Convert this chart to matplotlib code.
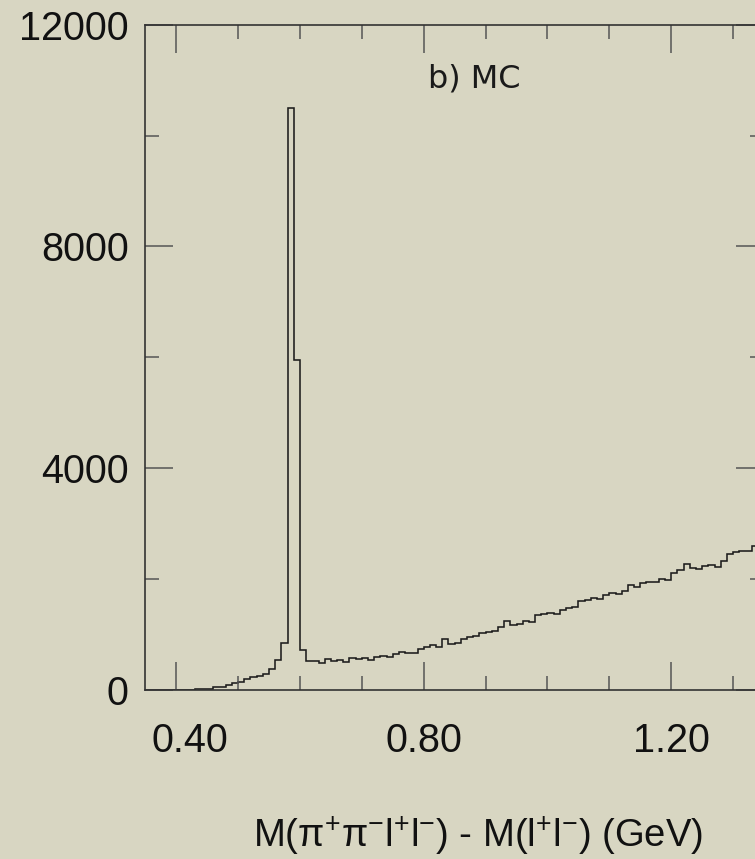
import numpy as np
import matplotlib
matplotlib.use("Agg")
import matplotlib.pyplot as plt
from matplotlib.ticker import MultipleLocator, FixedLocator
from matplotlib.transforms import ScaledTranslation

# Histogram of M(pi+ pi- l+ l-) - M(l+ l-), 0.01 GeV bins from 0.35 to 1.35 GeV
bin_lo = 0.35
bin_width = 0.01
counts = [
    0, 0, 0, 0, 0, 0, 0, 0, 10, 20,          # 0.35 - 0.45
    25, 48, 48, 90, 120, 150, 198, 228, 252, 288,   # 0.45 - 0.55
    378, 535, 852, 10500, 5950, 720, 525, 522, 480, 568,  # 0.55 - 0.65
    528, 540, 504, 582, 552, 582, 540, 590, 606, 590,    # 0.65 - 0.75
    654, 678, 660, 660, 732, 775, 805, 772, 922, 829,    # 0.75 - 0.85
    845, 925, 949, 973, 1021, 1051, 1069, 1130, 1238, 1177,   # 0.85 - 0.95
    1189, 1238, 1226, 1357, 1369, 1393, 1369, 1442, 1472, 1502,  # 0.95 - 1.05
    1610, 1628, 1652, 1640, 1712, 1742, 1730, 1790, 1898, 1850,  # 1.05 - 1.15
    1934, 1952, 1952, 2003, 1988, 2114, 2162, 2273, 2201, 2180,  # 1.15 - 1.25
    2237, 2258, 2213, 2333, 2453, 2486, 2510, 2500, 2606, 2630,  # 1.25 - 1.35
]
edges = bin_lo + bin_width * np.arange(len(counts) + 1)

x_ticks = [0.40, 0.80, 1.20]
x_tick_labels = ["0.40", "0.80", "1.20"]
y_ticks = [0, 4000, 8000, 12000]
y_tick_labels = ["0", "4000", "8000", "12000"]
panel_label = "b) MC"
x_title = r"M(π$^{+}$π$^{-}$l$^{+}$l$^{-}$) - M(l$^{+}$l$^{-}$) (GeV)"

plt.rcParams["font.family"] = ["Liberation Sans", "DejaVu Sans"]
plt.rcParams["mathtext.fontset"] = "custom"
plt.rcParams["mathtext.rm"] = "Liberation Sans"
plt.rcParams["mathtext.it"] = "Liberation Sans"
plt.rcParams["mathtext.default"] = "regular"

bg = "#d8d6c2"
fig = plt.figure(figsize=(7.55, 8.59), dpi=100, facecolor=bg)
W, H = 755, 859
left_px, right_px, top_px, bottom_px = 145.3, 764.0, 24.7, 690.0
ax = fig.add_axes([left_px / W, 1 - bottom_px / H,
                   (right_px - left_px) / W, (bottom_px - top_px) / H])
ax.set_facecolor(bg)

ax.stairs(counts, edges, color="#1c1c1c", linewidth=1.15)

ax.set_xlim(0.35, 1.35)
ax.set_ylim(0, 12000)

ax.xaxis.set_major_locator(FixedLocator(x_ticks))
ax.set_xticklabels(x_tick_labels)
ax.xaxis.set_minor_locator(MultipleLocator(0.1))
ax.yaxis.set_major_locator(FixedLocator(y_ticks))
ax.set_yticklabels(y_tick_labels)
ax.yaxis.set_minor_locator(MultipleLocator(2000))

tick_col = "#555555"
ax.tick_params(which="both", direction="in", top=True, right=True,
               color=tick_col, width=1.1)
ax.tick_params(which="major", length=20, labelsize=28.5, labelcolor="#111111")
ax.tick_params(which="minor", length=10)
ax.tick_params(axis="x", which="major", pad=23)
ax.tick_params(axis="y", which="major", pad=12)

for s in ax.spines.values():
    s.set_color("#333333")
    s.set_linewidth(1.2)

# the first x label sits a little right of its tick
fig.canvas.draw()
shift = ScaledTranslation(14 / 100, 0, fig.dpi_scale_trans)
lbl0 = ax.get_xticklabels()[0]
lbl0.set_transform(lbl0.get_transform() + shift)

ax.text(0.532, 0.918, panel_label, transform=ax.transAxes, ha="center",
        va="center", fontsize=23, family="DejaVu Sans", color="#1a1a1a")

fig.text(478 / W, 1 - 836 / H, x_title, ha="center", va="center",
         fontsize=27.5, color="#111111")

fig.savefig("out.png", dpi=100, facecolor=bg)
